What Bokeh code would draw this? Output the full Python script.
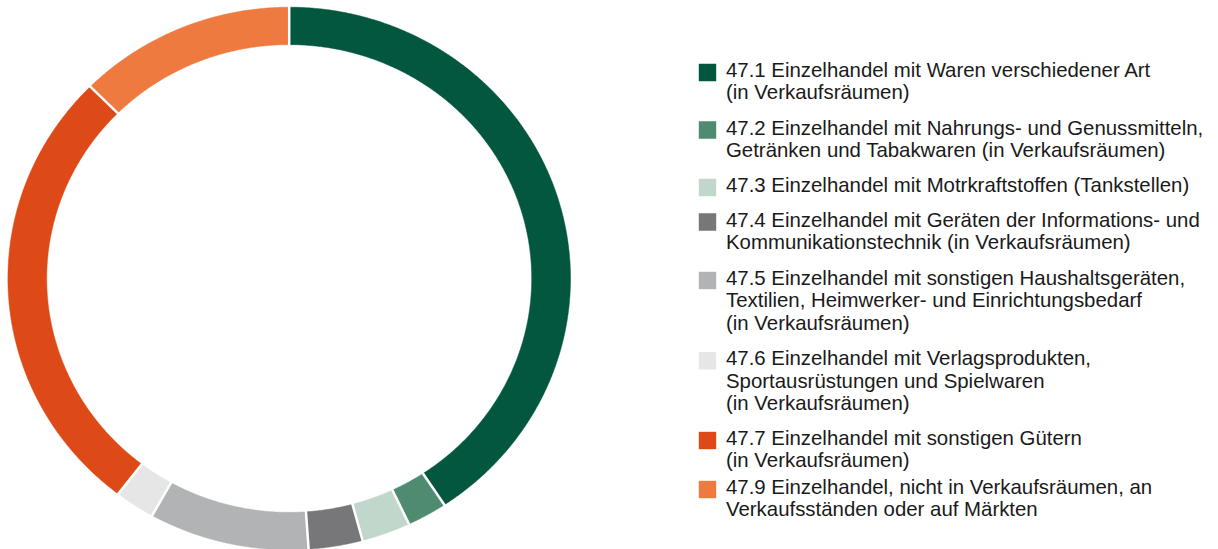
import numpy as np
from bokeh.plotting import figure
from bokeh.models import Range1d, ColumnDataSource
from bokeh.core.properties import value
from bokeh.embed import file_html
from bokeh.resources import INLINE

# ---- data ----
categories = ["47.1", "47.2", "47.3", "47.4", "47.5", "47.6", "47.7", "47.9"]
shares = [40.7, 2.3, 2.8, 3.1, 9.2, 2.3, 27.1, 12.5]
colors = ["#03573F", "#4F8B71", "#C2D7CC", "#77777A", "#B2B3B5", "#E6E6E6", "#DE4A17", "#EE7A3F"]
labels = [
    ["47.1 Einzelhandel mit Waren verschiedener Art", "(in Verkaufsräumen)"],
    ["47.2 Einzelhandel mit Nahrungs- und Genussmitteln,", "Getränken und Tabakwaren (in Verkaufsräumen)"],
    ["47.3 Einzelhandel mit Motrkraftstoffen (Tankstellen)"],
    ["47.4 Einzelhandel mit Geräten der Informations- und", "Kommunikationstechnik (in Verkaufsräumen)"],
    ["47.5 Einzelhandel mit sonstigen Haushaltsgeräten,", "Textilien, Heimwerker- und Einrichtungsbedarf", "(in Verkaufsräumen)"],
    ["47.6 Einzelhandel mit Verlagsprodukten,", "Sportausrüstungen und Spielwaren", "(in Verkaufsräumen)"],
    ["47.7 Einzelhandel mit sonstigen Gütern", "(in Verkaufsräumen)"],
    ["47.9 Einzelhandel, nicht in Verkaufsräumen, an", "Verkaufsständen oder auf Märkten"],
]

# ---- layout (figure pixel units) ----
W, H = 1218, 549
CX, CY = 288.7, 278.0
RX, RY = 281.3, 271.3
INNER = 0.862
legend_y = [72, 129.5, 187, 221.5, 280, 360.3, 440, 489]
SQ_X = 698.3
TXT_X = 725.5
LINE_H = 22.3
TXT_DY = -2.5

p = figure(width=W, height=H, output_backend="svg", toolbar_location=None,
           x_range=Range1d(0, W), y_range=Range1d(H, 0), min_border=0)
p.axis.visible = False
p.grid.visible = False
p.outline_line_color = None
p.background_fill_color = "white"
p.border_fill_color = "white"

vals = np.array(shares, dtype=float)
frac = vals / vals.sum()
ends = np.cumsum(frac) * 2 * np.pi
starts = ends - frac * 2 * np.pi

xs, ys = [], []
for a0, a1 in zip(starts, ends):
    n = max(10, int((a1 - a0) * 180 / np.pi * 3))
    t = np.linspace(a0, a1, n)
    ox = CX + RX * np.sin(t)
    oy = CY - RY * np.cos(t)
    ix = CX + RX * INNER * np.sin(t[::-1])
    iy = CY - RY * INNER * np.cos(t[::-1])
    xs.append(list(np.concatenate([ox, ix])))
    ys.append(list(np.concatenate([oy, iy])))

src = ColumnDataSource(dict(xs=xs, ys=ys, color=colors, cat=categories))
p.patches("xs", "ys", source=src, fill_color="color", line_color="color", line_width=0.5)

# white separators between slices
b = starts
p.segment(x0=list(CX + RX * 0.84 * np.sin(b)), y0=list(CY - RY * 0.84 * np.cos(b)),
          x1=list(CX + RX * 1.03 * np.sin(b)), y1=list(CY - RY * 1.03 * np.cos(b)),
          line_color="white", line_width=2.5)

# legend
p.rect(x=[SQ_X + 8.7] * len(categories), y=legend_y, width=17.4, height=17.4,
       width_units="screen", height_units="screen", fill_color=colors, line_color=None)

tx, ty, tt = [], [], []
for yc, lines in zip(legend_y, labels):
    for k, line in enumerate(lines):
        tx.append(TXT_X)
        ty.append(yc + TXT_DY + k * LINE_H)
        tt.append(line)
p.text(x=tx, y=ty, text=tt, text_font=value("Liberation Sans"), text_font_size="20.4px",
       text_baseline="alphabetic", text_align="left", text_color="#1a1a1a")

open("out.html", "w").write(file_html(p, INLINE))
